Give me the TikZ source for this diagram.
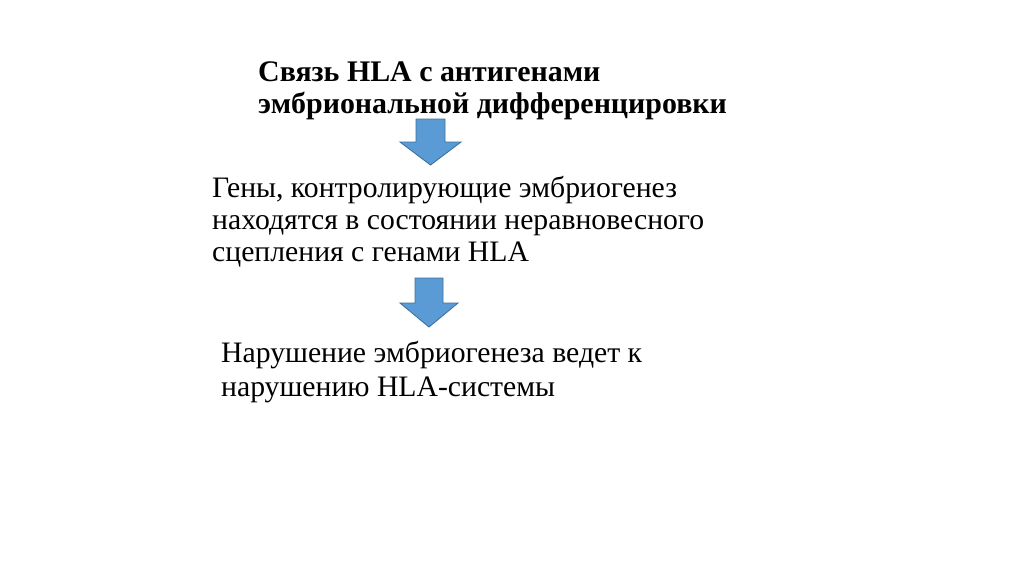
\documentclass[tikz,border=0pt]{standalone}
\usepackage{fontspec}
\setmainfont{Liberation Serif}
\definecolor{arrfill}{HTML}{5B9BD5}
\definecolor{arrline}{HTML}{41719C}
\begin{document}
\begin{tikzpicture}[x=1pt,y=-1pt,
  txt/.style={anchor=base west,inner sep=0pt,font=\fontsize{29.7}{34}\selectfont},
  ttl/.style={anchor=base west,inner sep=0pt,font=\fontsize{29.9}{34}\selectfont\bfseries},
  downarrow/.style={fill=arrfill,draw=arrline,line width=0.9pt,line join=miter}]
\useasboundingbox[fill=white] (0,0) rectangle (1024,574);
% title
\node[ttl] (t1) at (258,81) {Связь HLA с антигенами};
\node[ttl] (t2) at (258,113) {эмбриональной дифференцировки};
% arrow 1
\draw[downarrow] (416,119) -- (445,119) -- (445,142) -- (461,142) -- (430.5,165) -- (400,142) -- (416,142) -- cycle;
% middle text
\node[txt] (m1) at (212,197) {Гены, контролирующие эмбриогенез};
\node[txt] (m2) at (212,229.5) {находятся в состоянии неравновесного};
\node[txt] (m3) at (212,261.5) {сцепления с генами HLA};
% arrow 2
\draw[downarrow] (415,278) -- (443,278) -- (443,303) -- (458,303) -- (429,327) -- (400,303) -- (415,303) -- cycle;
% bottom text
\node[txt] (b1) at (221,362) {Нарушение эмбриогенеза ведет к};
\node[txt] (b2) at (221,396.5) {нарушению HLA-системы};
\end{tikzpicture}
\end{document}
